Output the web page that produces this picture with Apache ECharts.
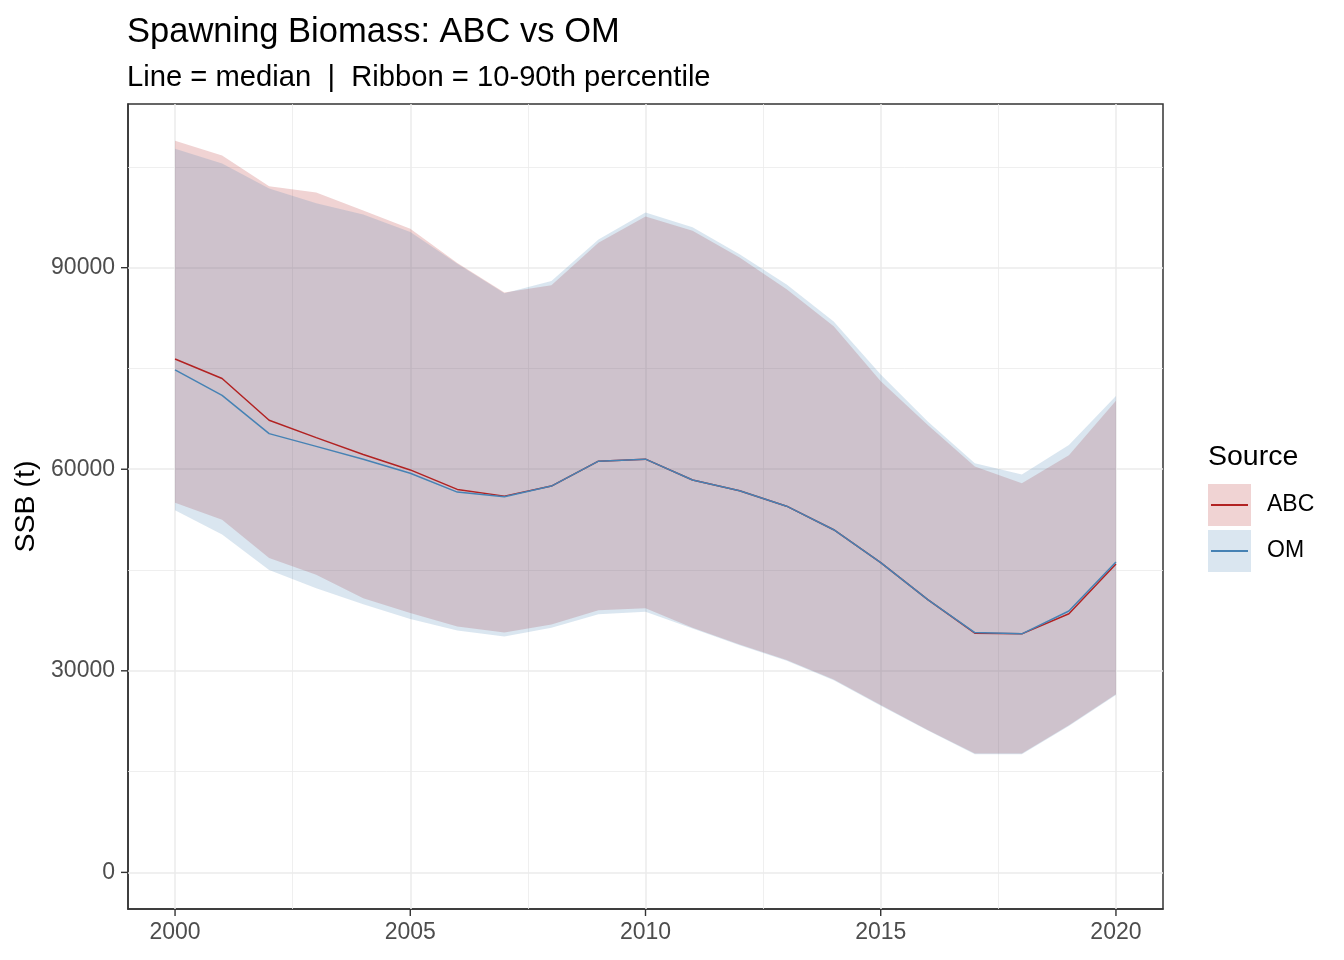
<!DOCTYPE html>
<html>
<head>
<meta charset="utf-8">
<script src="https://cdn.jsdelivr.net/npm/echarts@6/dist/echarts.min.js"></script>
<style>
html, body { margin: 0; padding: 0; background: #fff; }
#main { width: 1344px; height: 960px; }
</style>
</head>
<body>
<div id="main"></div>
<script>
var years = [2000,2001,2002,2003,2004,2005,2006,2007,2008,2009,2010,2011,2012,2013,2014,2015,2016,2017,2018,2019,2020];

// medians
var abcMed = [76400,73500,67300,64700,62200,59900,57000,56000,57500,61200,61500,58400,56800,54500,51000,46100,40600,35600,35500,38500,45900];
var omMed  = [74800,71000,65300,63400,61500,59400,56600,55900,57500,61200,61500,58400,56800,54500,51000,46100,40600,35700,35500,38900,46200];
// 10th / 90th percentiles
var abcLo = [55000,52500,46800,44300,40800,38600,36600,35700,36900,39000,39300,36400,33900,31600,28700,24900,21200,17700,17700,21900,26500];
var abcHi = [108900,106700,102100,101200,98500,95800,90700,86300,87400,93700,97600,95500,91500,86800,81300,73100,66600,60400,57900,62100,70200];
var omLo  = [53900,50300,45000,42300,39900,37700,36000,35100,36400,38400,38800,36300,33800,31500,28600,24800,21100,17600,17600,21800,26400];
var omHi  = [107700,105500,101800,99600,97900,95300,90600,86200,88000,94200,98200,96000,92000,87500,82000,74100,67100,60900,59200,63600,70900];

var xTicks = [2000,2005,2010,2015,2020];
var xMinor = [2002.5,2007.5,2012.5,2017.5];
var yTicks = [0,30000,60000,90000];
var yMinor = [15000,45000,75000,105000];

var xMin = 1999, xMax = 2021, yMin = -5450, yMax = 114360;

var font = 'Liberation Sans, Arial, sans-serif';
var abcCol = '#B22222', omCol = '#4682B4';

var ribbon = function (name, lo, hi, fill) {
    return {
        name: name,
        type: 'custom',
        z: 2,
        silent: true,
        data: years.map(function (y, i) { return [y, lo[i], hi[i]]; }),
        encode: {x: 0, y: [1, 2]},
        renderItem: function (params, api) {
            if (params.dataIndex !== 0) return;
            var pts = [];
            for (var i = 0; i < years.length; i++) pts.push(api.coord([years[i], hi[i]]));
            for (var j = years.length - 1; j >= 0; j--) pts.push(api.coord([years[j], lo[j]]));
            return {type: 'polygon', shape: {points: pts}, style: {fill: fill}};
        }
    };
};

// outward tick marks at the labelled values only
var ticks = function (pairs, dx, dy) {
    return {
        type: 'custom', z: 10, silent: true, clip: false,
        data: pairs,
        encode: {x: 0, y: 1},
        renderItem: function (params, api) {
            var p = api.coord([api.value(0), api.value(1)]);
            return {type: 'line', z2: 10,
                shape: {x1: p[0], y1: p[1], x2: p[0] + dx, y2: p[1] + dy},
                style: {stroke: '#333333', lineWidth: 1.4}};
        }
    };
};

var gridLines = [];
xTicks.forEach(function (v) { gridLines.push({xAxis: v, lineStyle: {width: 1.5}}); });
xMinor.forEach(function (v) { gridLines.push({xAxis: v, lineStyle: {width: 0.8}}); });
yTicks.forEach(function (v) { gridLines.push({yAxis: v, lineStyle: {width: 1.5}}); });
yMinor.forEach(function (v) { gridLines.push({yAxis: v, lineStyle: {width: 0.8}}); });

var myChart = echarts.init(document.getElementById('main'));
var option = {
    animation: false,
    textStyle: {fontFamily: font},
    title: [
        {text: 'Spawning Biomass: ABC vs OM', left: 122, top: 10,
            textStyle: {fontFamily: font, fontSize: 34.5, fontWeight: 'normal', color: '#000'}},
        {text: 'Line = median  |  Ribbon = 10-90th percentile', left: 122, top: 58,
            textStyle: {fontFamily: font, fontSize: 29.2, fontWeight: 'normal', color: '#000'}},
        {text: 'Source', left: 1203, top: 438,
            textStyle: {fontFamily: font, fontSize: 28.5, fontWeight: 'normal', color: '#000'}}
    ],
    legend: [
        {
            orient: 'vertical', left: 1208, top: 484, padding: 0,
            itemWidth: 43, itemHeight: 42, itemGap: 4,
            selectedMode: false,
            textStyle: {fontFamily: font, fontSize: 23, color: '#000', padding: [12, 0, 0, 11]},
            data: [
                {name: 'ABC', icon: 'rect', itemStyle: {color: 'rgba(178,34,34,0.2)'}},
                {name: 'OM', icon: 'rect', itemStyle: {color: 'rgba(70,130,180,0.2)'}}
            ]
        },
        {
            orient: 'vertical', left: 1211, top: 484, padding: 0,
            itemWidth: 37, itemHeight: 1.8, itemGap: 4,
            selectedMode: false,
            textStyle: {fontFamily: font, fontSize: 23, lineHeight: 42, color: 'rgba(0,0,0,0)'},
            data: [
                {name: 'ABC', icon: 'rect', itemStyle: {color: abcCol}},
                {name: 'OM', icon: 'rect', itemStyle: {color: omCol}}
            ]
        }
    ],
    grid: {
        left: 128, right: 181, top: 104, bottom: 51,
        show: true, borderColor: '#333333', borderWidth: 1.5, backgroundColor: '#fff'
    },
    xAxis: {
        type: 'value', min: xMin, max: xMax,
        axisLine: {show: true, onZero: false, lineStyle: {color: '#333333', width: 1.5}},
        splitLine: {show: false},
        axisTick: {show: false},
        axisLabel: {customValues: xTicks, margin: 12, fontSize: 23, color: '#4D4D4D', fontFamily: font,
            formatter: function (v) { return String(v); }}
    },
    yAxis: {
        type: 'value', min: yMin, max: yMax,
        name: 'SSB (t)', nameLocation: 'middle', nameGap: 86,
        nameTextStyle: {fontFamily: font, fontSize: 28.5, color: '#000'},
        axisLine: {show: true, onZero: false, lineStyle: {color: '#333333', width: 1.5}},
        splitLine: {show: false},
        axisTick: {show: false},
        axisLabel: {customValues: yTicks, margin: 13, fontSize: 23, color: '#4D4D4D', fontFamily: font,
            formatter: function (v) { return String(v); }}
    },
    series: [
        {
            name: 'grid', type: 'line', data: [], z: 1, silent: true,
            markLine: {
                z: 1, silent: true, symbol: ['none', 'none'], label: {show: false},
                lineStyle: {color: '#EBEBEB', type: 'solid'},
                emphasis: {disabled: true},
                data: gridLines
            }
        },
        ribbon('ABC', abcLo, abcHi, 'rgba(178,34,34,0.2)'),
        ribbon('OM', omLo, omHi, 'rgba(70,130,180,0.2)'),
        {
            name: 'ABC', type: 'line', z: 3, showSymbol: false, silent: true,
            data: years.map(function (y, i) { return [y, abcMed[i]]; }),
            lineStyle: {color: abcCol, width: 1.5}, itemStyle: {color: abcCol}
        },
        {
            name: 'OM', type: 'line', z: 3, showSymbol: false, silent: true,
            data: years.map(function (y, i) { return [y, omMed[i]]; }),
            lineStyle: {color: omCol, width: 1.5}, itemStyle: {color: omCol}
        },
        ticks(xTicks.map(function (v) { return [v, yMin]; }), 0, 7),
        ticks(yTicks.map(function (v) { return [xMin, v]; }), -7, 0)
    ]
};
myChart.setOption(option);
</script>
</body>
</html>
